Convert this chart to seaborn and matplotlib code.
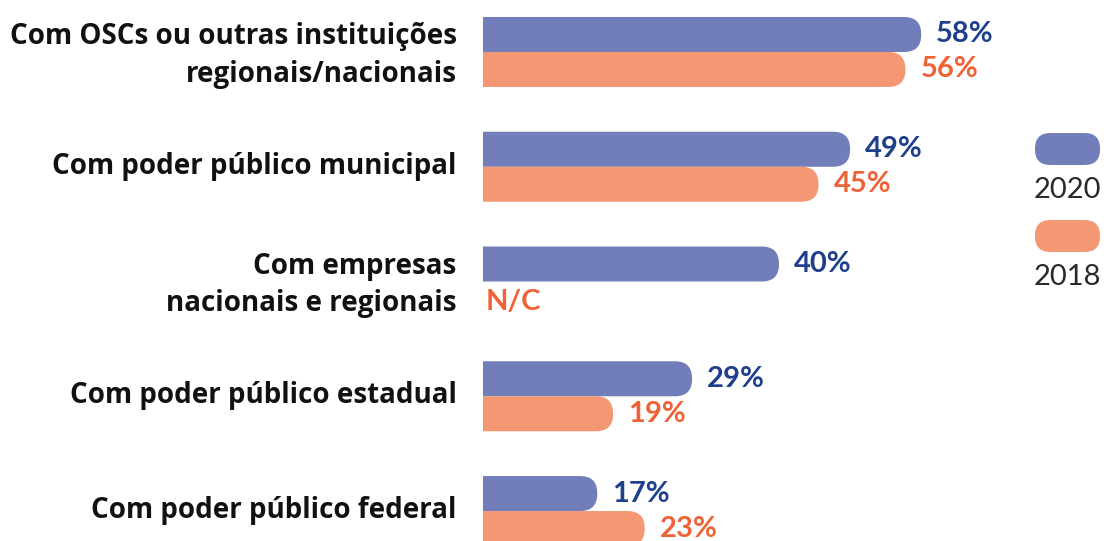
import numpy as np
import pandas as pd
import matplotlib
matplotlib.use("Agg")
import matplotlib.pyplot as plt
from matplotlib.patches import FancyBboxPatch
from matplotlib.transforms import ScaledTranslation
import seaborn as sns

categories = [
    "Com OSCs ou outras instituições\nregionais/nacionais",
    "Com poder público municipal",
    "Com empresas\nnacionais e regionais",
    "Com poder público estadual",
    "Com poder público federal",
]
years = ["2020", "2018"]
values_2020 = [58, 49, 40, 29, 17]
values_2018 = [56, 45, np.nan, 19, 23]
missing_label = "N/C"

bar_colors = {"2020": "#727EB9", "2018": "#F49773"}
text_colors = {"2020": "#1E3F8C", "2018": "#EE6236"}

df = pd.DataFrame({
    "categoria": categories * 2,
    "ano": ["2020"] * len(categories) + ["2018"] * len(categories),
    "valor": values_2020 + values_2018,
})

sns.set_theme(style="white")
plt.rcParams["font.family"] = ["Lato", "DejaVu Sans"]

W, H = 1107, 541
fig = plt.figure(figsize=(W / 100, H / 100), dpi=100)
ax_left_px, ax_right_px = 483, 1010
ax = fig.add_axes([ax_left_px / W, 0, (ax_right_px - ax_left_px) / W, 1])

sns.barplot(data=df, y="categoria", x="valor", hue="ano", hue_order=years,
            palette=bar_colors, width=0.61, orient="h", ax=ax, legend=False,
            saturation=1, errorbar=None)

x0_px = 463
px_per_unit = 7.9
xmin = (ax_left_px - x0_px) / px_per_unit
xmax = (ax_right_px - x0_px) / px_per_unit
ax.set_xlim(xmin, xmax)
ax.set_ylim(4.261, -0.453)

axw_px = ax_right_px - ax_left_px
axh_px = H
xpp = (xmax - xmin) / axw_px
ypp = (4.261 + 0.453) / axh_px

# replace bars by rounded ones
bars = list(ax.patches)
for p in bars:
    w = p.get_width()
    if not np.isfinite(w) or w == 0:
        p.remove()
        continue
    x, y, h = p.get_x(), p.get_y(), p.get_height()
    fc = p.get_facecolor()
    p.remove()
    r_px = h / ypp / 2 * 0.98
    fb = FancyBboxPatch((x, y), w, h,
                        boxstyle=f"round,pad=0,rounding_size={r_px * xpp}",
                        mutation_aspect=ypp / xpp, fc=fc, ec="none",
                        clip_on=True)
    ax.add_patch(fb)

# value labels
off = 15 * xpp
bar_h = 0.61 / 2
for i, cat in enumerate(categories):
    for j, yr in enumerate(years):
        v = (values_2020 if yr == "2020" else values_2018)[i]
        yc = i + (j - 0.5) * bar_h
        if np.isfinite(v):
            ax.text(v + off, yc, f"{int(v)}%", color=text_colors[yr],
                    fontsize=21, fontweight="bold", va="center", ha="left")
        else:
            ax.text(xmin + 3 * xpp, yc + 0.03, missing_label, color=text_colors[yr],
                    fontsize=21, fontweight="bold", va="center", ha="left")

ax.set_xlabel("")
ax.set_ylabel("")
ax.set_xticks([])
ax.tick_params(axis="y", length=0, pad=19)
shift = ScaledTranslation(0, 4 / 100, fig.dpi_scale_trans)
for lab in ax.get_yticklabels():
    lab.set_fontfamily(["Open Sans", "DejaVu Sans"])
    lab.set_fontsize(20)
    lab.set_fontweight("bold")
    lab.set_color("#111111")
    lab.set_linespacing(1.38)
    lab.set_va("center_baseline")
    lab.set_transform(lab.get_transform() + shift)
for s in ax.spines.values():
    s.set_visible(False)
ax.set_facecolor("none")

# legend
lax = fig.add_axes([1020 / W, 1 - 290 / H, 87 / W, 170 / H])
lax.set_xlim(0, 87)
lax.set_ylim(170, 0)
lax.axis("off")
for k, yr in enumerate(years):
    top = 13 + k * 87
    lax.add_patch(FancyBboxPatch((15, top), 65, 32,
                                 boxstyle="round,pad=0,rounding_size=15.5",
                                 fc=bar_colors[yr], ec="none"))
    lax.text(47.5, top + 57, yr, fontsize=21, fontweight="normal",
             color="#2a2a2a", ha="center", va="center")

fig.savefig("out.png", dpi=100)
